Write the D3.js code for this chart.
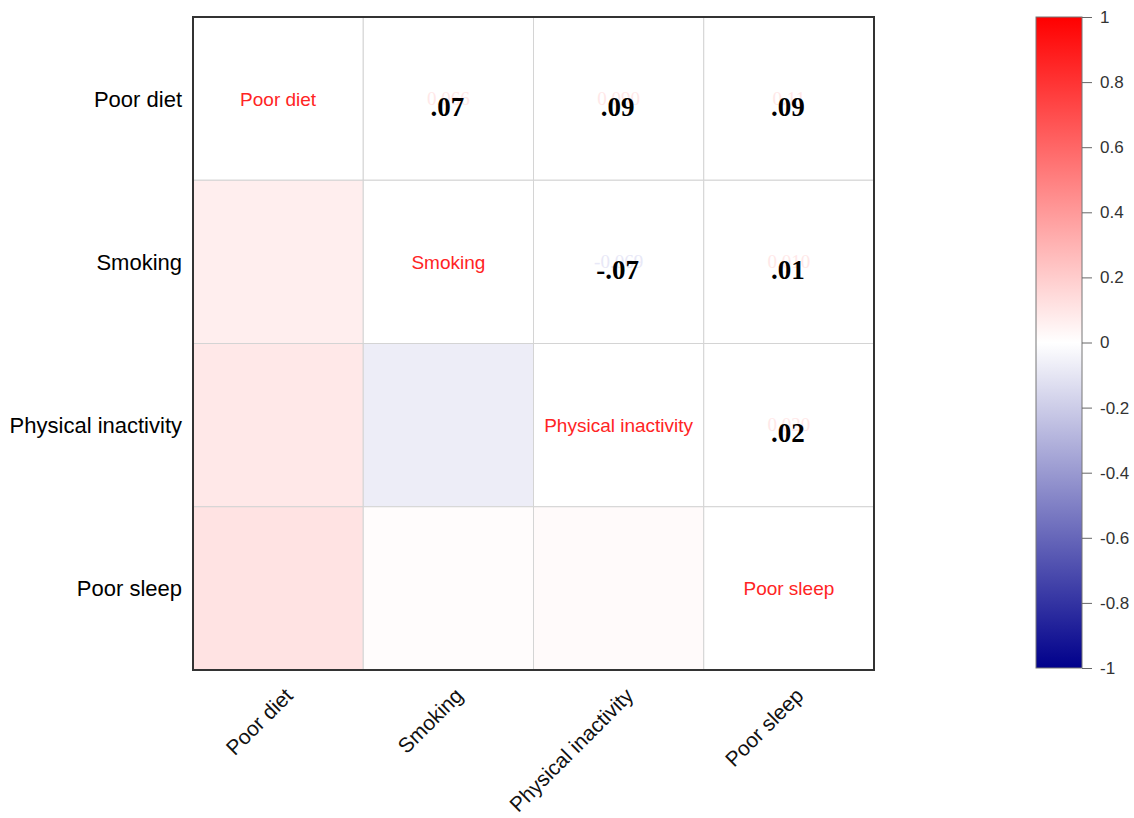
<!DOCTYPE html>
<html>
<head>
<meta charset="utf-8">
<script src="https://cdn.jsdelivr.net/npm/d3@7"></script>
<style>
  body { margin: 0; background: #fff; }
  svg { display: block; }
</style>
</head>
<body>
<div id="chart"></div>
<script>
// variables (same order for rows and columns)
var factors = ["Poor diet", "Smoking", "Physical inactivity", "Poor sleep"];

// correlation matrix (lower triangle gives the fill colour)
var corr = [
    [1,      0.066,  0.090, 0.11],
    [0.066,  1,     -0.069, 0.010],
    [0.090, -0.069,  1,     0.020],
    [0.11,   0.010,  0.020, 1]
];

// faint raw numbers printed in the upper cells
var rawLabels = [
    ["", "0.066", "0.090", "0.11"],
    ["", "", "-0.069", "0.010"],
    ["", "", "", "0.020"],
    ["", "", "", ""]
];

// bold rounded numbers written over them
var boldLabels = [
    ["", ".07", ".09", ".09"],
    ["", "", "-.07", ".01"],
    ["", "", "", ".02"],
    ["", "", "", ""]
];

var legendTicks = [1, 0.8, 0.6, 0.4, 0.2, 0, -0.2, -0.4, -0.6, -0.8, -1];

var svgWidth = 1134;
var svgHeight = 818;

var svg = d3.select("#chart")
    .append("svg")
    .attr("width", svgWidth)
    .attr("height", svgHeight);

// plot area
var plot = { left: 193, top: 17, right: 874, bottom: 670 };

var x = d3.scaleBand()
    .domain(factors)
    .range([plot.left, plot.right]);

var y = d3.scaleBand()
    .domain(factors)
    .range([plot.top, plot.bottom]);

var color = d3.scaleLinear()
    .domain([-1, 0, 1])
    .range(["#00008b", "#ffffff", "#ff0000"]);

// build cell list
var cells = [];
factors.forEach(function (rowName, i) {
    factors.forEach(function (colName, j) {
        cells.push({ row: rowName, col: colName, i: i, j: j, value: corr[i][j] });
    });
});

// lower triangle coloured, diagonal and upper white
svg.append("g")
    .selectAll("rect")
    .data(cells)
    .enter()
    .append("rect")
    .attr("x", d => x(d.col))
    .attr("y", d => y(d.row))
    .attr("width", x.bandwidth())
    .attr("height", y.bandwidth())
    .attr("fill", d => d.i > d.j ? color(d.value) : "#ffffff")
    .attr("stroke", "#d4d4d4")
    .attr("stroke-width", 1);

// faint raw values
svg.append("g")
    .selectAll("text")
    .data(cells.filter(d => d.i < d.j))
    .enter()
    .append("text")
    .attr("x", d => x(d.col) + x.bandwidth() / 2)
    .attr("y", d => y(d.row) + y.bandwidth() / 2 + 6)
    .attr("text-anchor", "middle")
    .attr("font-family", "Liberation Serif, Times New Roman, serif")
    .attr("font-size", "19px")
    .attr("fill", d => d.value < 0 ? "#e8e8f7" : "#ffe8e8")
    .text(d => rawLabels[d.i][d.j]);

// bold rounded values
svg.append("g")
    .selectAll("text")
    .data(cells.filter(d => d.i < d.j))
    .enter()
    .append("text")
    .attr("x", d => x(d.col) + x.bandwidth() / 2 - 1)
    .attr("y", d => y(d.row) + y.bandwidth() / 2 + 17)
    .attr("text-anchor", "middle")
    .attr("font-family", "Liberation Serif, Times New Roman, serif")
    .attr("font-weight", "bold")
    .attr("font-size", "27px")
    .attr("fill", "#000")
    .text(d => boldLabels[d.i][d.j]);

// diagonal names in red
svg.append("g")
    .selectAll("text")
    .data(factors)
    .enter()
    .append("text")
    .attr("x", d => x(d) + x.bandwidth() / 2)
    .attr("y", d => y(d) + y.bandwidth() / 2 + 7)
    .attr("text-anchor", "middle")
    .attr("font-family", "Liberation Sans, Arial, sans-serif")
    .attr("font-size", "19px")
    .attr("fill", "#ff2424")
    .text(d => d);

// frame
svg.append("rect")
    .attr("x", plot.left)
    .attr("y", plot.top)
    .attr("width", plot.right - plot.left)
    .attr("height", plot.bottom - plot.top)
    .attr("fill", "none")
    .attr("stroke", "#333")
    .attr("stroke-width", 2);

// row labels
svg.append("g")
    .selectAll("text")
    .data(factors)
    .enter()
    .append("text")
    .attr("x", 182)
    .attr("y", d => y(d) + y.bandwidth() / 2 + 8)
    .attr("text-anchor", "end")
    .attr("font-family", "Liberation Sans, Arial, sans-serif")
    .attr("font-size", "22px")
    .attr("fill", "#000")
    .text(d => d);

// column labels, rotated
svg.append("g")
    .selectAll("text")
    .data(factors)
    .enter()
    .append("text")
    .attr("transform", d => `translate(${x(d) + x.bandwidth() / 2 + 16}, 697) rotate(-45)`)
    .attr("text-anchor", "end")
    .attr("font-family", "Liberation Sans, Arial, sans-serif")
    .attr("font-size", "21px")
    .attr("fill", "#111")
    .text(d => d);

// colour bar
var bar = { left: 1036, width: 46, top: 17, bottom: 668 };

var legendScale = d3.scaleLinear()
    .domain([-1, 1])
    .range([bar.bottom, bar.top]);

var defs = svg.append("defs");
var grad = defs.append("linearGradient")
    .attr("id", "cbar")
    .attr("x1", "0").attr("y1", "1")
    .attr("x2", "0").attr("y2", "0");

grad.selectAll("stop")
    .data([-1, -0.5, 0, 0.5, 1])
    .enter()
    .append("stop")
    .attr("offset", d => ((d + 1) / 2 * 100) + "%")
    .attr("stop-color", d => color(d));

svg.append("rect")
    .attr("x", bar.left)
    .attr("y", bar.top)
    .attr("width", bar.width)
    .attr("height", bar.bottom - bar.top)
    .attr("fill", "url(#cbar)")
    .attr("stroke", "#777")
    .attr("stroke-width", 1);

var legendAxis = d3.axisRight(legendScale)
    .tickValues(legendTicks)
    .tickSize(10)
    .tickPadding(8)
    .tickFormat(d => String(+d.toFixed(1)));

var legendG = svg.append("g")
    .attr("transform", `translate(${bar.left + bar.width}, 0)`)
    .call(legendAxis);

legendG.select(".domain").remove();
legendG.selectAll(".tick line").attr("stroke", "#666");
legendG.selectAll(".tick text")
    .attr("font-family", "Liberation Sans, Arial, sans-serif")
    .attr("font-size", "17px")
    .attr("fill", "#333");
</script>
</body>
</html>
